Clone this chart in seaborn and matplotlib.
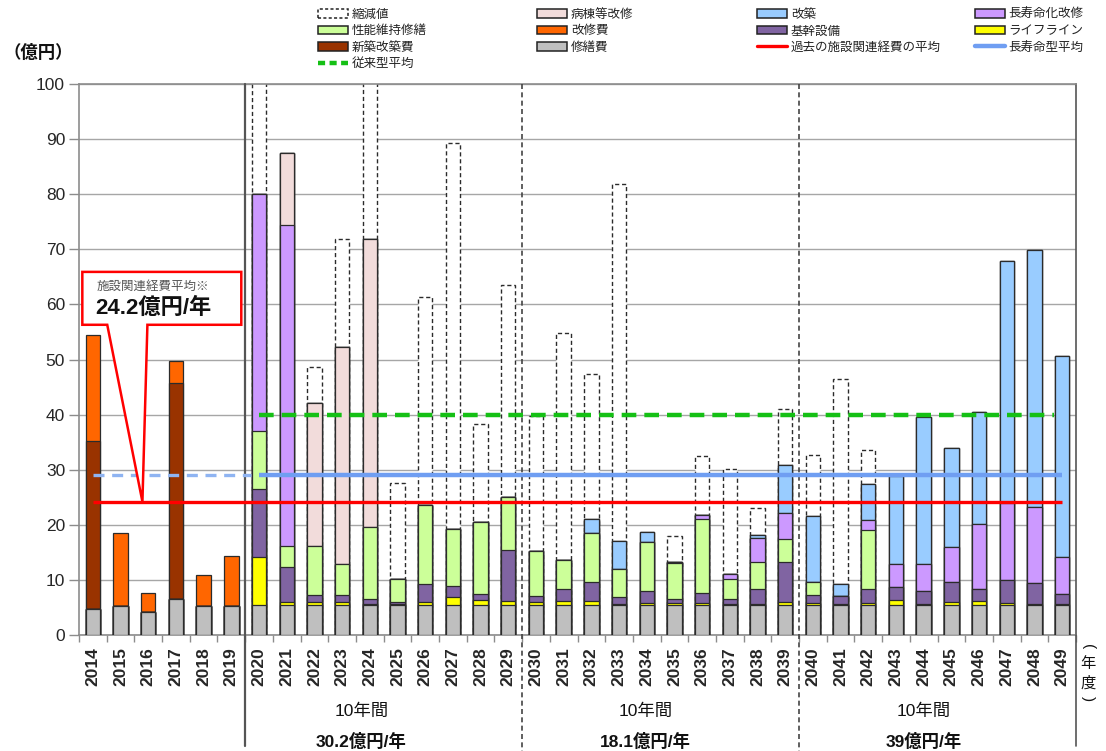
import numpy as np
import pandas as pd
import matplotlib
matplotlib.use("Agg")
import matplotlib.pyplot as plt
import matplotlib.transforms as mtransforms
from matplotlib.patches import Patch, Polygon
from matplotlib.lines import Line2D
import seaborn as sns

# ---------------------------------------------------------------- data (億円)
years = [str(y) for y in range(2014, 2050)]

shuuzen = [4.8, 5.3, 4.2, 6.5, 5.3, 5.3,
           5.4, 5.4, 5.4, 5.4, 5.4, 5.4, 5.4, 5.4, 5.4, 5.4,
           5.4, 5.4, 5.4, 5.4, 5.4, 5.4, 5.4, 5.4, 5.4, 5.4,
           5.4, 5.4, 5.4, 5.4, 5.4, 5.4, 5.4, 5.4, 5.4, 5.4]
lifeline = [0, 0, 0, 0, 0, 0,
            8.8, 0.6, 0.6, 0.5, 0.3, 0.2, 0.5, 1.5, 0.9, 0.8,
            0.6, 0.8, 0.7, 0.3, 0.4, 0.4, 0.4, 0.3, 0.3, 0.5,
            0.4, 0.2, 0.4, 0.9, 0.3, 0.5, 0.7, 0.4, 0.2, 0.3]
kikan = [0, 0, 0, 0, 0, 0,
         12.3, 6.3, 1.3, 1.4, 0.9, 0.3, 3.3, 2.0, 1.1, 9.3,
         1.0, 2.1, 3.5, 1.2, 2.2, 0.8, 1.8, 0.9, 2.6, 7.3,
         1.5, 1.5, 2.6, 2.4, 2.2, 3.8, 2.2, 4.2, 3.8, 1.7]
seino = [0, 0, 0, 0, 0, 0,
         10.5, 3.9, 8.9, 5.6, 13.0, 4.2, 14.4, 10.4, 13.1, 9.5,
         8.2, 5.4, 8.9, 5.0, 8.8, 6.4, 13.5, 3.5, 4.9, 4.3,
         2.4, 0, 10.6, 0, 0, 0, 0, 0, 0, 0]
choju = [0, 0, 0, 0, 0, 0,
         43.0, 58.3, 0, 0, 0, 0, 0, 0, 0, 0,
         0, 0, 0, 0, 0, 0.2, 0.7, 1.0, 4.4, 4.7,
         0, 0, 1.8, 4.2, 5.0, 6.2, 11.8, 14.0, 13.8, 6.8]
byoto = [0, 0, 0, 0, 0, 0,
         0, 13.0, 25.9, 39.4, 52.2, 0, 0, 0, 0, 0,
         0, 0, 0, 0, 0, 0, 0, 0, 0, 0,
         0, 0, 0, 0, 0, 0, 0, 0, 0, 0]
kaichiku = [0, 0, 0, 0, 0, 0,
            0, 0, 0, 0, 0, 0, 0, 0, 0, 0,
            0, 0, 2.5, 5.1, 1.9, 0, 0, 0, 0.6, 8.7,
            11.9, 2.1, 6.6, 15.9, 26.7, 18.0, 20.3, 43.9, 46.6, 36.5]
shinchiku = [30.4, 0, 0, 39.2, 0, 0] + [0] * 30
kaishu = [19.3, 13.2, 3.4, 4.0, 5.5, 9.0] + [0] * 30

# totals before reduction (縮減値), 0 = none
shukugen = [0, 0, 0, 0, 0, 0,
            120, 0, 48.7, 71.8, 110, 27.5, 61.3, 89.3, 38.3, 63.5,
            39.8, 54.9, 47.3, 81.8, 0, 18.0, 32.5, 30.2, 23.0, 41.0,
            32.7, 46.4, 33.5, 0, 0, 0, 0, 0, 0, 0]

past_avg = 24.2          # 過去の施設関連経費の平均
longlife_avg = 29.0      # 長寿命型平均
conventional_avg = 40.0  # 従来型平均

decade_labels = ["30.2億円/年", "18.1億円/年", "39億円/年"]

# ---------------------------------------------------------------- style
sns.set_theme(style="white")
plt.rcParams["font.family"] = ["Liberation Sans", "Noto Sans CJK JP"]
plt.rcParams["axes.unicode_minus"] = False

W, H = 1106, 751
fig = plt.figure(figsize=(W / 100, H / 100), dpi=100)
ax = fig.add_axes([79 / W, (H - 635) / H, 997 / W, 551 / H])

layers = [
    ("修繕費", shuuzen, "#bfbfbf"),
    ("ライフライン", lifeline, "#ffff00"),
    ("基幹設備", kikan, "#8064a2"),
    ("性能維持修繕", seino, "#ccff99"),
    ("長寿命化改修", choju, "#cc99ff"),
    ("病棟等改修", byoto, "#f2dcdb"),
    ("改築", kaichiku, "#99ccff"),
    ("新築改築費", shinchiku, "#993300"),
    ("改修費", kaishu, "#ff6600"),
]
colors = {name: c for name, _, c in layers}

cum = np.cumsum(np.array([vals for _, vals, _ in layers], dtype=float), axis=0)

bar_w = 0.52
edge = "#2b2b2b"

# dashed outline of the pre-reduction totals, white filled so the grid is hidden
sns.barplot(x=years, y=shukugen, order=years, color="white", saturation=1,
            width=bar_w, edgecolor=edge, linewidth=1.0, linestyle=(0, (3, 2)),
            errorbar=None, ax=ax, zorder=2)

# stacked segments: draw cumulative tops from the highest layer downwards
for k in range(len(layers) - 1, -1, -1):
    sns.barplot(x=years, y=cum[k], order=years, color=layers[k][2],
                saturation=1, width=bar_w, edgecolor=edge, linewidth=0.9,
                errorbar=None, ax=ax, zorder=3)

ax.set_xlim(-0.5, len(years) - 0.5)
ax.set_ylim(0, 100)
ax.set_xlabel("")
ax.set_ylabel("")

# grid and frame
ax.set_axisbelow(True)
ax.yaxis.grid(True, color="#a6a6a6", lw=1.0)
ax.xaxis.grid(False)
for s in ax.spines.values():
    s.set_color("#8c8c8c")
    s.set_linewidth(1.2)
ax.spines["right"].set_color("#555555")

# ticks
ax.set_yticks(range(0, 101, 10))
ax.tick_params(axis="y", left=True, length=7, width=1, color="#8c8c8c",
               labelsize=12.5, pad=3, direction="out")
ax.set_xticks(range(len(years)))
ax.set_xticklabels(years, rotation=90, fontsize=12.5, fontweight="bold")
ax.set_xticks(np.arange(-0.5, len(years), 1), minor=True)
ax.tick_params(axis="x", which="major", bottom=True, length=0, pad=9)
ax.tick_params(axis="x", which="minor", bottom=True, length=5, width=1,
               color="#8c8c8c", direction="out")

# period separators, running down into the label area
ax.plot([5.5, 5.5], [100, -20.2], color="#555555", lw=1.6, clip_on=False, zorder=5)
for xs in (15.5, 25.5):
    ax.plot([xs, xs], [100, -21.5], color="#444444", lw=1.2,
            ls=(0, (3, 2)), clip_on=False, zorder=5)
ax.plot([35.5, 35.5], [0, -20.2], color="#555555", lw=1.2, clip_on=False, zorder=5)

# average lines
ax.plot([0, 35], [past_avg, past_avg], color="#ff0000", lw=2.4, zorder=6,
        solid_capstyle="butt")
ax.plot([0, 5.7], [longlife_avg, longlife_avg], color="#8fb4f2", lw=2.4,
        ls=(0, (3.3, 2.3)), zorder=6)
ax.plot([6, 35], [longlife_avg, longlife_avg], color="#6f9ef2", lw=3.2,
        zorder=6, solid_capstyle="butt")
ax.plot([6, 34.7], [conventional_avg, conventional_avg], color="#15c015", lw=3.2,
        ls=(0, (3.3, 1.8)), zorder=6)

# callout for the past average
callout = Polygon([(-0.38, 65.9), (5.36, 65.9), (5.36, 56.3), (1.97, 56.3),
                   (1.79, past_avg), (0.52, 56.3), (-0.38, 56.3)],
                  closed=True, facecolor="white", edgecolor="#ff0000", lw=1.8,
                  zorder=7, joinstyle="miter")
ax.add_patch(callout)
ax.text(0.12, 63.2, "施設関連経費平均※", fontsize=9, color="#555555",
        ha="left", va="center", zorder=8)
ax.text(0.1, 59.3, f"{past_avg}億円/年", fontsize=16, fontweight="bold",
        color="#111111", ha="left", va="center", zorder=8)

# period summaries below the axis
btr = mtransforms.blended_transform_factory(ax.transData, ax.transAxes)
for xc, lab in zip((9.7, 19.95, 30.0), decade_labels):
    ax.text(xc, -0.138, "10年間", transform=btr, ha="center", va="center",
            fontsize=12.5, color="#111111")
    ax.text(xc, -0.193, lab, transform=btr, ha="center", va="center",
            fontsize=12.5, fontweight="bold", color="#111111")

# axis captions
fig.text(38 / W, 1 - 52 / H, "（億円）", ha="center", va="center",
         fontsize=12.5, fontweight="bold", color="#111111")
# vertical "(年度)" to the right of the year labels
fig.text(1088 / W, 1 - 647 / H, "(", rotation=-90, ha="center", va="center",
         fontsize=11, color="#111111")
fig.text(1088 / W, 1 - 664 / H, "年", ha="center", va="center",
         fontsize=11, color="#111111")
fig.text(1088 / W, 1 - 683 / H, "度", ha="center", va="center",
         fontsize=11, color="#111111")
fig.text(1088 / W, 1 - 699 / H, ")", rotation=-90, ha="center", va="center",
         fontsize=11, color="#111111")

# legend, laid out as four columns
def patch(name):
    return Patch(facecolor=colors[name], edgecolor="#222222", lw=1.1, label=name)

columns = [
    (318, [Patch(facecolor="white", edgecolor="#222222", lw=1.1,
                 ls=(0, (2, 1.5)), label="縮減値"),
           patch("性能維持修繕"), patch("新築改築費"),
           Line2D([], [], color="#15c015", lw=3.2, ls=(0, (1.6, 1.0)),
                  label="従来型平均")]),
    (537, [patch("病棟等改修"), patch("改修費"), patch("修繕費")]),
    (757, [patch("改築"), patch("基幹設備"),
           Line2D([], [], color="#ff0000", lw=2.4, label="過去の施設関連経費の平均")]),
    (975, [patch("長寿命化改修"), patch("ライフライン"),
           Line2D([], [], color="#6f9ef2", lw=3.2, label="長寿命型平均")]),
]
for x0, handles in columns:
    fig.legend(handles=handles, loc="upper left",
               bbox_to_anchor=(x0 / W, 1 - 9 / H), frameon=False,
               fontsize=9, handlelength=2.4, handleheight=0.7,
               handletextpad=0.3, labelspacing=0.35, borderpad=0,
               borderaxespad=0, labelcolor="#222222")

fig.savefig("out.png", dpi=100)
